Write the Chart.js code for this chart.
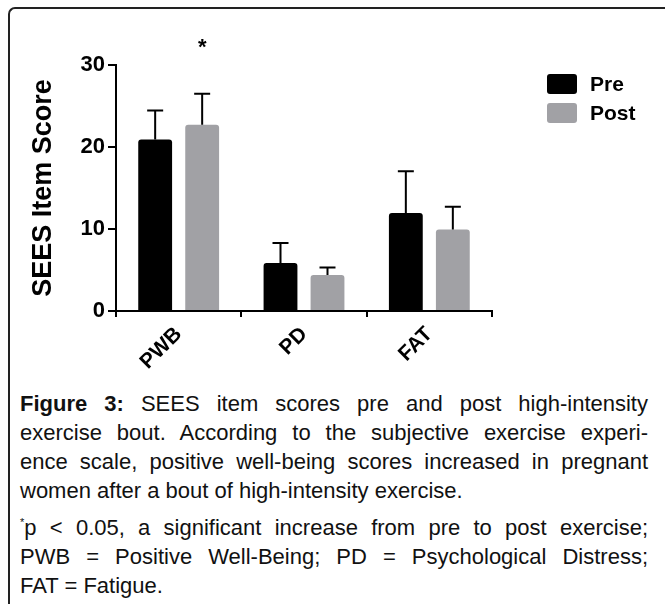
<!DOCTYPE html>
<html>
<head>
<meta charset="utf-8">
<script src="https://cdn.jsdelivr.net/npm/chart.js@4.4.0/dist/chart.umd.min.js"></script>
<style>
    html, body { margin: 0; padding: 0; background: #fff; }
    body { width: 665px; height: 604px; position: relative; overflow: hidden; font-family: "Liberation Sans", Arial, sans-serif; }
    #frame { position: absolute; left: 8px; top: 7px; width: 700px; height: 640px; border-left: 2px solid #222; border-top: 2px solid #222; border-top-left-radius: 7px; }
    #wrap { position: absolute; left: 0; top: 0; width: 665px; height: 380px; }
    #caption { position: absolute; left: 20px; top: 389px; width: 628px; font-size: 22px; line-height: 29px; color: #111; }
    #caption p { margin: 0; }
    #caption p + p { margin-top: 8px; }
    .j { text-align: justify; text-align-last: justify; }
    sup { font-size: 11px; line-height: 0; vertical-align: 9px; }
</style>
</head>
<body>
<div id="frame"></div>
<div id="wrap"><canvas id="chart" width="665" height="380"></canvas></div>
<div id="caption">
    <p><span class="j" style="display:block"><b>Figure 3:</b> SEES item scores pre and post high-intensity</span><span class="j" style="display:block">exercise bout. According to the subjective exercise experi-</span><span class="j" style="display:block">ence scale, positive well-being scores increased in pregnant</span><span style="display:block">women after a bout of high-intensity exercise.</span></p>
    <p><span class="j" style="display:block"><sup>*</sup>p &lt; 0.05, a significant increase from pre to post exercise;</span><span class="j" style="display:block">PWB = Positive Well-Being; PD = Psychological Distress;</span><span style="display:block">FAT = Fatigue.</span></p>
</div>
<script>
    // Chart data
    const categories = ['PWB', 'PD', 'FAT'];
    const seriesNames = ['Pre', 'Post'];
    const preMeans = [20.9, 5.85, 11.95];
    const postMeans = [22.7, 4.4, 9.95];
    const preErrors = [3.55, 2.45, 5.1];
    const postErrors = [3.8, 0.9, 2.75];
    const yTicks = [0, 10, 20, 30];
    // star marks: which post bars are significant
    const postSignificant = [true, false, false];

    const FONT = '"Liberation Sans", Arial, sans-serif';

    // One-sided (upper) error bars
    const errorBars = {
        id: 'errorBars',
        afterDatasetsDraw(chart) {
            const ctx = chart.ctx;
            const y = chart.scales.y;
            chart.data.datasets.forEach((ds, di) => {
                const meta = chart.getDatasetMeta(di);
                meta.data.forEach((bar, i) => {
                    const top = y.getPixelForValue(ds.data[i] + ds.errors[i]);
                    ctx.save();
                    ctx.strokeStyle = '#000';
                    ctx.lineWidth = 2;
                    ctx.beginPath();
                    ctx.moveTo(bar.x, bar.y);
                    ctx.lineTo(bar.x, top);
                    ctx.moveTo(bar.x - 8, top);
                    ctx.lineTo(bar.x + 8, top);
                    ctx.stroke();
                    ctx.restore();
                });
            });
        }
    };

    // Significance star over post bars
    const sigStars = {
        id: 'sigStars',
        afterDraw(chart) {
            const ctx = chart.ctx;
            const meta = chart.getDatasetMeta(1);
            ctx.save();
            ctx.fillStyle = '#000';
            ctx.font = 'bold 22px ' + FONT;
            ctx.textAlign = 'center';
            ctx.textBaseline = 'middle';
            postSignificant.forEach((sig, i) => {
                if (sig) ctx.fillText('*', meta.data[i].x, chart.chartArea.top - 17);
            });
            ctx.restore();
        }
    };

    // Legend on the right, away from the plot
    const sideLegend = {
        id: 'sideLegend',
        afterDraw(chart) {
            const ctx = chart.ctx;
            const x0 = chart.chartArea.right + 55;
            const y0 = chart.chartArea.top + 9;
            ctx.save();
            chart.data.datasets.forEach((ds, i) => {
                const top = y0 + i * 29;
                ctx.fillStyle = ds.backgroundColor;
                ctx.beginPath();
                ctx.roundRect(x0, top, 30, 20, 3);
                ctx.fill();
                ctx.fillStyle = '#000';
                ctx.font = 'bold 21px ' + FONT;
                ctx.textBaseline = 'middle';
                ctx.fillText(ds.label, x0 + 43, top + 11);
            });
            ctx.restore();
        }
    };

    const ctx = document.getElementById('chart').getContext('2d');
    new Chart(ctx, {
        type: 'bar',
        data: {
            labels: categories,
            datasets: [
                {
                    label: seriesNames[0],
                    data: preMeans,
                    errors: preErrors,
                    backgroundColor: '#000000',
                    borderRadius: 3,
                    borderSkipped: 'start'
                },
                {
                    label: seriesNames[1],
                    data: postMeans,
                    errors: postErrors,
                    backgroundColor: '#a1a1a5',
                    borderRadius: 3,
                    borderSkipped: 'start'
                }
            ]
        },
        options: {
            responsive: false,
            animation: false,
            categoryPercentage: 0.75,
            barPercentage: 0.72,
            layout: {
                padding: { left: 23, right: 173, top: 65, bottom: 0 }
            },
            plugins: {
                legend: { display: false },
                tooltip: { enabled: false }
            },
            scales: {
                x: {
                    afterFit(scale) { scale.height = 69; },
                    grid: { display: true, drawOnChartArea: false, drawTicks: true, tickLength: 6, color: '#000', lineWidth: 2 },
                    border: { display: true, color: '#000', width: 2 },
                    ticks: {
                        color: '#000',
                        font: { family: FONT, size: 21, weight: 'bold' },
                        maxRotation: 45,
                        minRotation: 45,
                        padding: 5
                    }
                },
                y: {
                    min: 0,
                    max: 30,
                    afterFit(scale) { scale.width = 93; },
                    afterBuildTicks(scale) { scale.ticks = yTicks.map(v => ({ value: v })); },
                    grid: { display: true, drawOnChartArea: false, drawTicks: true, tickLength: 8, color: '#000', lineWidth: 2 },
                    border: { display: true, color: '#000', width: 2 },
                    ticks: {
                        color: '#000',
                        font: { family: FONT, size: 22, weight: 'bold' },
                        padding: 3
                    },
                    title: {
                        display: true,
                        text: 'SEES Item Score',
                        color: '#000',
                        font: { family: FONT, size: 27, weight: 'bold' },
                        padding: { top: 4, bottom: 4 }
                    }
                }
            }
        },
        plugins: [errorBars, sigStars, sideLegend]
    });
</script>
</body>
</html>
